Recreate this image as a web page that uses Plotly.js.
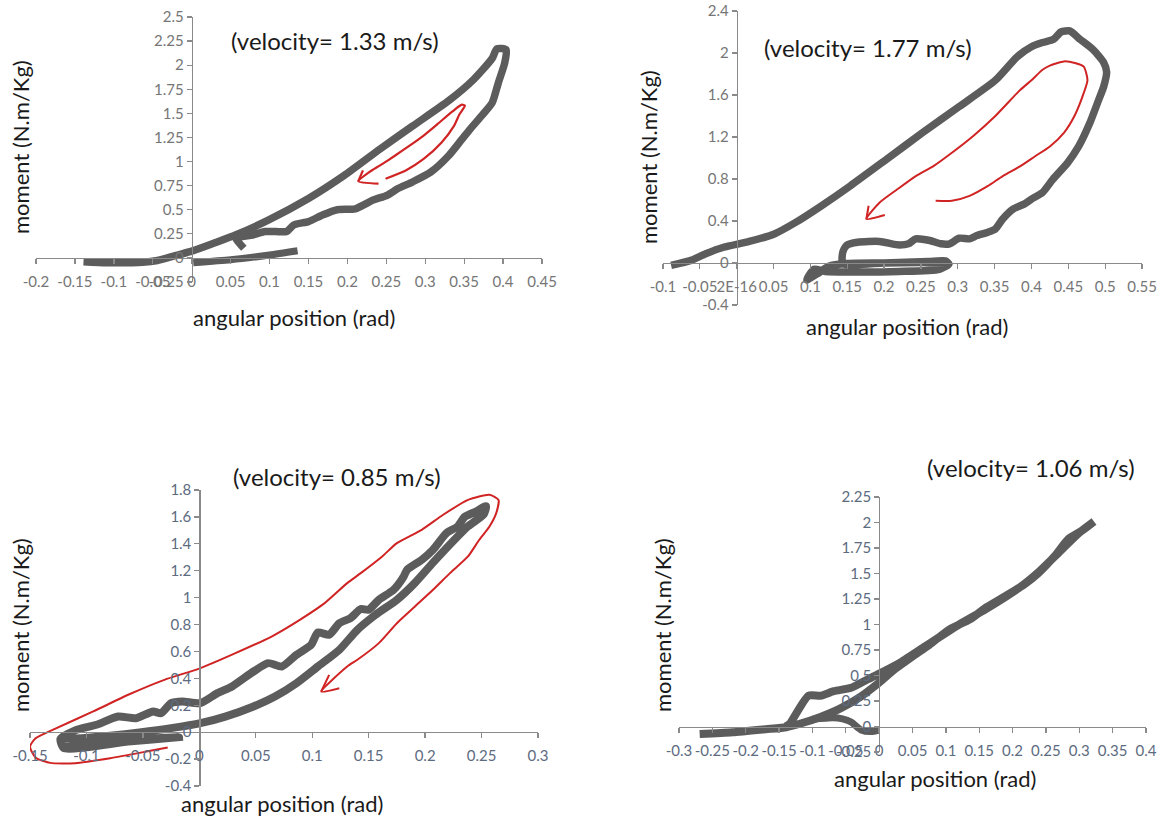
<!DOCTYPE html>
<html><head><meta charset="utf-8">
<script src="https://cdn.plot.ly/plotly-3.0.1.min.js"></script>
<style>html,body{margin:0;padding:0;background:#fff}#chart{width:1164px;height:818px}</style>
</head><body><div id="chart"></div>
<script>
// ---------- Panel 1: velocity 1.33 m/s ----------
const p1LoopX = [-0.139,-0.109,-0.063,-0.044,-0.028,0.002,0.029,0.057,0.099,0.150,0.196,0.242,0.284,0.330,0.362,0.386,0.392,0.404,0.402,0.394,0.386,0.374,0.358,0.347,0.330,0.307,0.284,0.265,0.251,0.233,0.210,0.187,0.168,0.150,0.131,0.122,0.108,0.094,0.076,0.057,0.067];
const p1LoopY = [-0.04,-0.05,-0.045,-0.027,0.007,0.075,0.154,0.24,0.394,0.616,0.856,1.13,1.37,1.63,1.85,2.07,2.17,2.16,2.02,1.82,1.61,1.49,1.34,1.23,1.06,0.89,0.79,0.72,0.65,0.60,0.51,0.50,0.445,0.377,0.342,0.274,0.274,0.274,0.233,0.205,0.10];
const p1TailX = [0.002,0.05,0.1,0.136];
const p1TailY = [-0.05,-0.02,0.03,0.075];
const p1RedX = [0.249,0.275,0.298,0.321,0.337,0.344,0.351,0.347,0.335,0.316,0.298,0.279,0.261,0.242,0.228,0.214,0.240,null,0.214,0.220];
const p1RedY = [0.822,0.908,1.027,1.198,1.37,1.49,1.58,1.59,1.52,1.39,1.27,1.16,1.06,0.96,0.89,0.795,0.77,null,0.795,0.908];
const p1XTicks = [-0.2,-0.15,-0.1,-0.05,0,0.05,0.1,0.15,0.2,0.25,0.3,0.35,0.4,0.45];
const p1XText = ['-0.2','-0.15','-0.1','-0.05','0','0.05','0.1','0.15','0.2','0.25','0.3','0.35','0.4','0.45'];
const p1YTicks = [-0.25,0,0.25,0.5,0.75,1,1.25,1.5,1.75,2,2.25,2.5];
const p1YText = ['-0.25','0','0.25','0.5','0.75','1','1.25','1.5','1.75','2','2.25','2.5'];
const p1Title = '(velocity= 1.33 m/s)';

// ---------- Panel 2: velocity 1.77 m/s ----------
const p2LoopX = [-0.089,-0.062,-0.042,-0.018,0.017,0.051,0.080,0.115,0.154,0.203,0.252,0.302,0.351,0.380,0.400,0.415,0.430,0.440,0.452,0.466,0.484,0.498,0.502,0.498,0.491,0.479,0.464,0.449,0.429,0.415,0.400,0.390,0.375,0.361,0.351,0.341,0.326,0.316,0.302,0.289,0.277,0.262,0.243,0.233,0.218,0.194,0.164,0.149,0.144,0.144,0.20,0.26,0.283,0.288,0.275,0.22,0.16,0.12,0.105,0.095,0.11,0.125,0.15,0.20,0.25,0.285];
const p2LoopY = [-0.022,0.025,0.088,0.15,0.205,0.277,0.387,0.545,0.734,0.986,1.24,1.49,1.74,1.96,2.06,2.10,2.13,2.20,2.21,2.13,2.03,1.91,1.82,1.68,1.55,1.33,1.11,0.954,0.797,0.671,0.608,0.561,0.513,0.419,0.324,0.293,0.261,0.230,0.236,0.183,0.183,0.214,0.230,0.183,0.173,0.205,0.198,0.167,0.104,-0.006,0.0,0.015,0.02,-0.01,-0.06,-0.08,-0.085,-0.08,-0.06,-0.16,-0.1,-0.03,-0.005,0.0,0.005,0.0];
const p2RedX = [0.270,0.292,0.316,0.341,0.361,0.385,0.405,0.425,0.444,0.459,0.471,0.476,0.471,0.459,0.444,0.425,0.415,0.400,0.385,0.351,0.321,0.292,0.267,0.243,0.218,0.194,0.176,0.201,null,0.176,0.179];
const p2RedY = [0.592,0.592,0.639,0.734,0.828,0.923,1.017,1.11,1.24,1.41,1.62,1.74,1.87,1.905,1.92,1.88,1.84,1.74,1.65,1.40,1.21,1.05,0.923,0.828,0.702,0.576,0.419,0.457,null,0.419,0.545];
const p2XTicks = [-0.1,-0.05,0,0.05,0.1,0.15,0.2,0.25,0.3,0.35,0.4,0.45,0.5,0.55];
const p2XText = ['-0.1','-0.05','2E-16','0.05','0.1','0.15','0.2','0.25','0.3','0.35','0.4','0.45','0.5','0.55'];
const p2YTicks = [-0.4,0,0.4,0.8,1.2,1.6,2,2.4];
const p2YText = ['-0.4','0','0.4','0.8','1.2','1.6','2','2.4'];
const p2Title = '(velocity= 1.77 m/s)';

// ---------- Panel 3: velocity 0.85 m/s ----------
const p3LoopX = [-0.109,-0.091,-0.072,-0.056,-0.041,-0.034,-0.025,-0.015,0.001,0.016,0.029,0.048,0.061,0.073,0.086,0.099,0.105,0.115,0.124,0.134,0.143,0.150,0.159,0.172,0.181,0.184,0.197,0.207,0.219,0.229,0.235,0.245,0.254,0.252,0.238,0.226,0.207,0.191,0.175,0.156,0.140,0.124,0.105,0.086,0.067,0.048,0.023,0.001,-0.025,-0.053,-0.079,-0.104,-0.123,-0.120,-0.094,-0.063,-0.018,-0.063,-0.120,-0.123,-0.109];
const p3LoopY = [0.017,0.055,0.116,0.104,0.154,0.141,0.216,0.228,0.216,0.290,0.340,0.451,0.513,0.488,0.575,0.649,0.741,0.724,0.810,0.848,0.915,0.910,0.984,1.058,1.157,1.207,1.281,1.356,1.48,1.53,1.60,1.64,1.68,1.62,1.53,1.43,1.26,1.11,0.984,0.872,0.761,0.612,0.488,0.364,0.265,0.191,0.116,0.067,0.030,-0.002,-0.027,-0.045,-0.057,-0.107,-0.082,-0.057,-0.037,-0.069,-0.119,-0.05,0.017];
const p3RedX = [-0.028,-0.047,-0.079,-0.110,-0.132,-0.145,-0.150,-0.145,-0.128,-0.094,-0.063,-0.031,0.001,0.032,0.064,0.089,0.111,0.131,0.143,0.162,0.175,0.197,0.216,0.238,0.257,0.265,0.263,0.257,0.248,0.238,0.222,0.207,0.191,0.175,0.159,0.140,0.131,0.108,0.124,null,0.108,0.115];
const p3RedY = [-0.114,-0.144,-0.193,-0.230,-0.228,-0.190,-0.107,-0.045,0.025,0.154,0.278,0.389,0.476,0.587,0.711,0.835,0.959,1.108,1.182,1.306,1.405,1.504,1.616,1.727,1.765,1.727,1.628,1.529,1.430,1.306,1.182,1.058,0.934,0.810,0.662,0.538,0.488,0.302,0.327,null,0.302,0.426];
const p3XTicks = [-0.15,-0.1,-0.05,0,0.05,0.1,0.15,0.2,0.25,0.3];
const p3XText = ['-0.15','-0.1','-0.05','0','0.05','0.1','0.15','0.2','0.25','0.3'];
const p3YTicks = [-0.4,-0.2,0,0.2,0.4,0.6,0.8,1,1.2,1.4,1.6,1.8];
const p3YText = ['-0.4','-0.2','0','0.2','0.4','0.6','0.8','1','1.2','1.4','1.6','1.8'];
const p3Title = '(velocity= 0.85 m/s)';

// ---------- Panel 4: velocity 1.06 m/s ----------
const p4LoopX = [-0.269,-0.220,-0.170,-0.139,-0.119,-0.088,-0.058,-0.027,0,0.024,0.049,0.075,0.105,0.136,0.161,0.187,0.217,0.238,0.263,0.284,0.304,0.322,0.30,0.27,0.24,0.21,0.16,0.12,0.07,0.03,0.01,-0.017,-0.042,-0.068,-0.088,-0.106,-0.134,-0.14];
const p4LoopY = [-0.074,-0.057,-0.027,-0.007,0.027,0.094,0.178,0.296,0.430,0.564,0.682,0.799,0.950,1.05,1.17,1.27,1.39,1.50,1.67,1.84,1.92,2.01,1.90,1.71,1.52,1.36,1.15,1.00,0.79,0.62,0.55,0.463,0.379,0.346,0.302,0.302,0.027,0.0];
const p4HookX = [-0.10,-0.07,-0.055,-0.042,-0.027,-0.012,0.0];
const p4HookY = [0.07,0.085,0.075,0.044,-0.034,-0.050,-0.035];
const p4XTicks = [-0.3,-0.25,-0.2,-0.15,-0.1,-0.05,0,0.05,0.1,0.15,0.2,0.25,0.3,0.35,0.4];
const p4XText = ['-0.3','-0.25','-0.2','-0.15','-0.1','-0.05','0','0.05','0.1','0.15','0.2','0.25','0.3','0.35','0.4'];
const p4YTicks = [-0.25,0,0.25,0.5,0.75,1,1.25,1.5,1.75,2,2.25];
const p4YText = ['-0.25','0','0.25','0.5','0.75','1','1.25','1.5','1.75','2','2.25'];
const p4Title = '(velocity= 1.06 m/s)';

const xTitle = 'angular position (rad)';
const yTitle = 'moment (N.m/Kg)';

// ---------- layout helpers ----------
const W = 1164, H = 818;
const GRAY = '#5c5c5c', RED = '#d02424', AXIS = '#8a8a8a';
const FONT = 'Lato, Carlito, "Open Sans", sans-serif';

const layout = {
  width: W, height: H, margin: {l:0, r:0, t:0, b:0},
  paper_bgcolor: '#fff', plot_bgcolor: 'rgba(0,0,0,0)',
  showlegend: false, font: {family: FONT},
  annotations: []
};

function addPanel(n, xr, yr, pxX, pxY, xt, xtt, yt, ytt, tickColor) {
  const xd = [pxX[0]/W, pxX[1]/W];
  const yd = [1 - pxY[0]/H, 1 - pxY[1]/H];
  const yZero = yd[0] + (0 - yr[0])/(yr[1]-yr[0])*(yd[1]-yd[0]);
  const xZero = xd[0] + (0 - xr[0])/(xr[1]-xr[0])*(xd[1]-xd[0]);
  const common = {
    showline: true, linecolor: AXIS, linewidth: 1.3,
    ticks: 'outside', ticklen: 5, tickcolor: AXIS, tickwidth: 1.3,
    tickmode: 'array', tickangle: 0,
    tickfont: {family: FONT, size: 15, color: tickColor},
    showgrid: false, zeroline: false, fixedrange: true, anchor: 'free'
  };
  const s = n === 1 ? '' : String(n);
  layout['xaxis' + s] = Object.assign({}, common, {domain: xd, range: xr, position: yZero, tickvals: xt, ticktext: xtt, ticklabelstandoff: 5});
  layout['yaxis' + s] = Object.assign({}, common, {domain: yd, range: yr, position: xZero, tickvals: yt, ticktext: ytt});
}

function addText(txt, px, py, size, angle) {
  layout.annotations.push({
    text: txt, xref: 'paper', yref: 'paper', x: px/W, y: 1 - py/H,
    xanchor: 'center', yanchor: 'middle', showarrow: false, textangle: angle || 0,
    font: {family: FONT, size: size, color: '#1a1a1a'}
  });
}

addPanel(1, [-0.2, 0.45], [-0.25, 2.5], [36, 542], [282, 17], p1XTicks, p1XText, p1YTicks, p1YText, '#767676');
addPanel(2, [-0.1, 0.55], [-0.4, 2.4], [663, 1142], [305, 11], p2XTicks, p2XText, p2YTicks, p2YText, '#767676');
addPanel(3, [-0.15, 0.3], [-0.4, 1.8], [30, 538], [786, 490], p3XTicks, p3XText, p3YTicks, p3YText, '#5d6b80');
addPanel(4, [-0.3, 0.4], [-0.25, 2.25], [679, 1146], [752, 497], p4XTicks, p4XText, p4YTicks, p4YText, '#5d6b80');

addText(p1Title, 335, 40, 24);
addText(p2Title, 868, 47, 24);
addText(p3Title, 337, 476, 24);
addText(p4Title, 1031, 467, 24);
addText(xTitle, 294, 318, 22);
addText(xTitle, 907, 327, 22);
addText(xTitle, 282, 803, 22);
addText(xTitle, 935, 778, 22);
addText(yTitle, 20, 147, 22, -90);
addText(yTitle, 648, 157, 22, -90);
addText(yTitle, 20, 625, 22, -90);
addText(yTitle, 662, 625, 22, -90);

function line(x, y, ax, color, width) {
  return {x: x, y: y, xaxis: 'x' + ax, yaxis: 'y' + ax, type: 'scatter', mode: 'lines',
    line: {color: color, width: width, shape: 'spline', smoothing: 0.6}, hoverinfo: 'skip', connectgaps: false};
}

const data = [
  line(p1LoopX, p1LoopY, '', GRAY, 7.5),
  line(p1TailX, p1TailY, '', GRAY, 7),
  line(p1RedX, p1RedY, '', RED, 2.2),
  line(p2LoopX, p2LoopY, '2', GRAY, 7.5),
  line(p2RedX, p2RedY, '2', RED, 2),
  line(p3LoopX, p3LoopY, '3', GRAY, 8),
  line(p3RedX, p3RedY, '3', RED, 2),
  line(p4LoopX, p4LoopY, '4', GRAY, 8),
  line(p4HookX, p4HookY, '4', GRAY, 7)
];
data[0].xaxis = 'x'; data[0].yaxis = 'y';
data[1].xaxis = 'x'; data[1].yaxis = 'y';
data[2].xaxis = 'x'; data[2].yaxis = 'y';

Plotly.newPlot('chart', data, layout, {displayModeBar: false, staticPlot: true});
</script>
</body></html>
